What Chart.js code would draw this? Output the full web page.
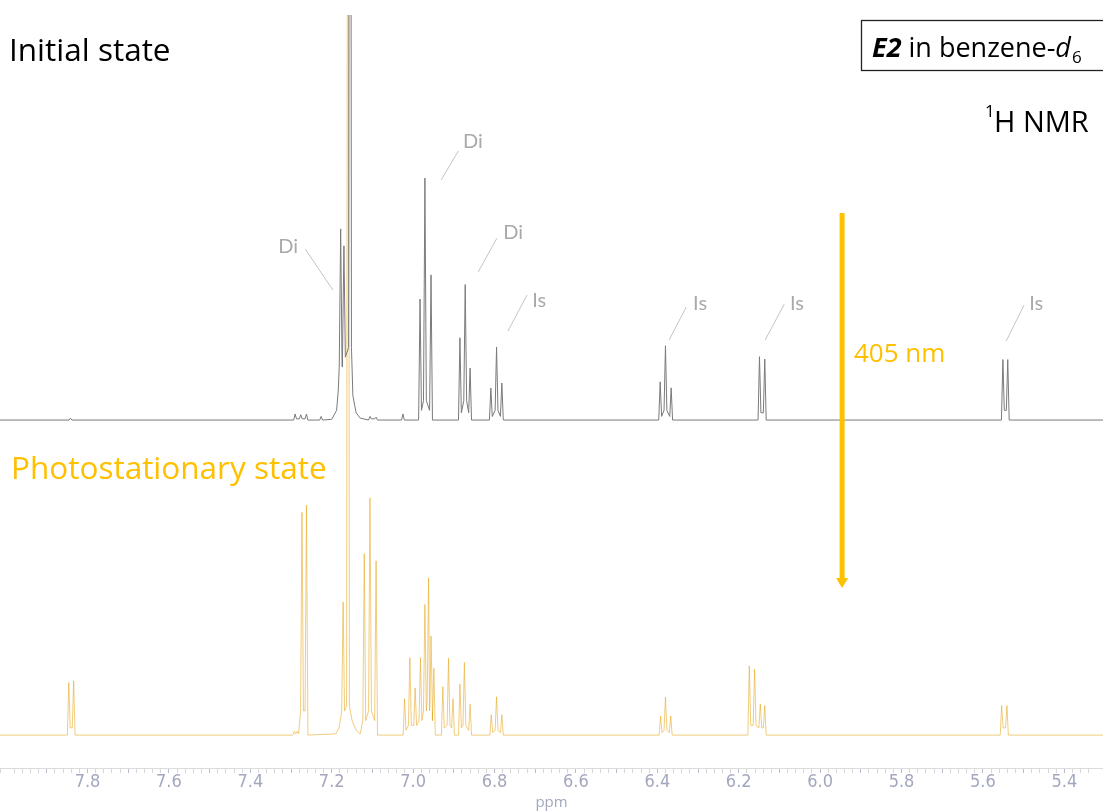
<!DOCTYPE html>
<html>
<head>
<meta charset="utf-8">
<script src="https://cdn.jsdelivr.net/npm/chart.js@4.4.0/dist/chart.umd.min.js"></script>
<style>
  html, body { margin: 0; padding: 0; background: #fff; }
  #wrap { width: 1103px; height: 812px; }
</style>
</head>
<body>
<div id="wrap"><canvas id="nmr"></canvas></div>
<script>
// axis range (ppm, drawn reversed) and labelled ticks
const ppmRange = [5.305, 8.015];
const tickLabels = ['7.8', '7.6', '7.4', '7.2', '7.0', '6.8', '6.6', '6.4', '6.2', '6.0', '5.8', '5.6', '5.4'];

// initial state (grey trace): peak positions, heights, valley level between close lines
const initialPpm  = [7.842, 7.290, 7.276, 7.262, 7.226, 7.178, 7.170, 7.155, 7.106, 7.091, 7.025,
                     6.983, 6.971, 6.956, 6.885, 6.872, 6.860, 6.809, 6.795, 6.782,
                     6.393, 6.380, 6.366, 6.149, 6.136, 5.551, 5.539];
const initialInt  = [0.8, 2.5, 2.2, 2.5, 1.5, 79, 72, 600, 1.5, 1.2, 2.5,
                     50, 100, 60, 34, 56, 21.5, 13.2, 30.2, 15.3,
                     15.8, 30.7, 13.3, 26.2, 25.2, 25, 25];
const initialFoot = [0, 0.5, 0.5, 0.5, 0, 22, 26, 30, 0.5, 0.5, 0,
                     4, 8, 4, 3, 8, 3, 1.5, 4, 1.5,
                     1.5, 4, 1.5, 3, 3, 4, 4];
// broad base under the solvent signal
const initialBasePpm = [7.200, 7.188, 7.184, 7.148, 7.140, 7.130];
const initialBaseInt = [0.3, 4, 12, 10, 3, 0.8];

// photostationary state (orange trace)
const pssPpm  = [7.846, 7.834, 7.292, 7.285, 7.273, 7.262, 7.172, 7.160, 7.120, 7.106, 7.091,
                 7.021, 7.008, 6.995, 6.982, 6.971, 6.962, 6.956, 6.949, 6.927, 6.913, 6.902,
                 6.885, 6.874, 6.860, 6.808, 6.795, 6.782, 6.392, 6.380, 6.367,
                 6.174, 6.161, 6.147, 6.136, 5.554, 5.541];
const pssInt  = [21.7, 22.4, 1.5, 1.5, 92, 95, 55, 600, 75, 98, 72,
                 15, 32, 19.5, 32, 54, 65, 41, 27.6, 20, 31.7, 15,
                 21, 30, 12.8, 8.4, 15.8, 8.4, 7.9, 15.7, 7.9,
                 28.6, 27.2, 12.9, 12.2, 12.2, 12.2];
const pssFoot = [3, 3, 0.5, 0.5, 10, 10, 10, 12, 6, 10, 6,
                 2, 4, 4, 6, 10, 14, 10, 6, 3, 4, 3,
                 3, 4, 2, 1, 2, 1, 1, 2, 1,
                 4, 4, 3, 3, 3, 3];
const pssBasePpm = [7.190, 7.182, 7.178, 7.150, 7.140, 7.130];
const pssBaseInt = [0.5, 3, 7, 6, 2, 0.5];

// peak labels: text position and leader line, in ppm / top-trace units
const peakLabels = [
  { text: 'Di', at: [7.307, 71.9], from: [7.265, 70.7], to: [7.197, 53.7] },
  { text: 'Di', at: [6.853, 115.3], from: [6.889, 111.2], to: [6.931, 99.2] },
  { text: 'Di', at: [6.754, 77.3], from: [6.794, 75.2], to: [6.840, 61.2] },
  { text: 'Is', at: [6.690, 49.2], from: [6.720, 51.7], to: [6.767, 36.8] },
  { text: 'Is', at: [6.295, 48.3], from: [6.329, 46.7], to: [6.371, 33.1] },
  { text: 'Is', at: [6.057, 48.3], from: [6.088, 47.9], to: [6.135, 33.1] },
  { text: 'Is', at: [5.469, 48.3], from: [5.499, 47.5], to: [5.543, 32.6] }
];

const halfWidth = 0.0035;
const groupGap = 0.016;

// each line is a narrow spike; its feet sit on the valley level only where a neighbour is close
function buildTrace(ppm, ints, foot, basePpm, baseInt) {
  const near = basePpm.concat(ppm);
  const pts = [{ x: ppmRange[1], y: 0 }, { x: ppmRange[0], y: 0 }];
  ppm.forEach((p, i) => {
    const hi = near.some(q => q > p + 1e-6 && q - p <= groupGap) ? foot[i] : 0;
    const lo = near.some(q => q < p - 1e-6 && p - q <= groupGap) ? foot[i] : 0;
    pts.push({ x: p + halfWidth, y: hi }, { x: p, y: ints[i] }, { x: p - halfWidth, y: lo });
  });
  basePpm.forEach((p, i) => pts.push({ x: p, y: baseInt[i] }));
  return pts.sort((a, b) => b.x - a.x);
}

const GOLD = '#FFC000';
const FONT = '"Open Sans", sans-serif';

const decorations = {
  id: 'decorations',
  afterDatasetsDraw(chart) {
    const ctx = chart.ctx;
    const x = chart.scales.x, y = chart.scales.yTop;
    ctx.save();

    // peak assignments
    ctx.strokeStyle = '#c4c4c4';
    ctx.lineWidth = 1;
    ctx.fillStyle = '#a9a9a9';
    ctx.font = '20px Lato, "Open Sans", sans-serif';
    ctx.textAlign = 'center';
    ctx.textBaseline = 'middle';
    peakLabels.forEach(l => {
      ctx.beginPath();
      ctx.moveTo(x.getPixelForValue(l.from[0]), y.getPixelForValue(l.from[1]));
      ctx.lineTo(x.getPixelForValue(l.to[0]), y.getPixelForValue(l.to[1]));
      ctx.stroke();
      ctx.fillText(l.text, x.getPixelForValue(l.at[0]), y.getPixelForValue(l.at[1]));
    });

    // state titles
    ctx.textAlign = 'left';
    ctx.textBaseline = 'alphabetic';
    ctx.font = '31.5px ' + FONT;
    ctx.fillStyle = '#000';
    ctx.fillText('Initial state', 9, 61);
    ctx.fillStyle = GOLD;
    ctx.fillText('Photostationary state', 11, 479);

    // irradiation arrow
    const ax = x.getPixelForValue(5.946);
    ctx.strokeStyle = GOLD;
    ctx.lineWidth = 5;
    ctx.beginPath();
    ctx.moveTo(ax, 213);
    ctx.lineTo(ax, 580);
    ctx.stroke();
    ctx.fillStyle = GOLD;
    ctx.beginPath();
    ctx.moveTo(ax - 6, 578);
    ctx.lineTo(ax + 6, 578);
    ctx.lineTo(ax, 588);
    ctx.closePath();
    ctx.fill();
    ctx.font = '26px ' + FONT;
    ctx.textBaseline = 'middle';
    ctx.fillText('405 nm', 854, 355);

    // sample box
    ctx.strokeStyle = '#222';
    ctx.lineWidth = 1.3;
    ctx.strokeRect(861.5, 20.5, 260, 50);
    ctx.fillStyle = '#000';
    ctx.textBaseline = 'alphabetic';
    let tx = 872;
    const base = 57;
    ctx.font = 'italic bold 27px ' + FONT;
    ctx.fillText('E2', tx, base); tx += ctx.measureText('E2').width;
    ctx.font = '27px ' + FONT;
    ctx.fillText(' in benzene-', tx, base); tx += ctx.measureText(' in benzene-').width;
    ctx.font = 'italic 27px ' + FONT;
    ctx.fillText('d', tx, base); tx += ctx.measureText('d').width;
    ctx.font = '17px ' + FONT;
    ctx.fillText('6', tx + 1, base + 6);

    // nucleus
    ctx.font = '17px ' + FONT;
    ctx.fillText('1', 985, 117);
    ctx.font = '29px ' + FONT;
    ctx.fillText('H NMR', 994, 132);
    ctx.restore();
  }
};

new Chart(document.getElementById('nmr'), {
  type: 'line',
  data: {
    datasets: [
      {
        label: 'Initial state',
        data: buildTrace(initialPpm, initialInt, initialFoot, initialBasePpm, initialBaseInt),
        yAxisID: 'yTop',
        borderColor: '#7a7a7a',
        borderWidth: 1,
        pointRadius: 0,
        tension: 0
      },
      {
        label: 'Photostationary state',
        data: buildTrace(pssPpm, pssInt, pssFoot, pssBasePpm, pssBaseInt),
        yAxisID: 'yBot',
        borderColor: 'rgba(232, 170, 40, 0.6)',
        borderWidth: 1,
        pointRadius: 0,
        tension: 0
      }
    ]
  },
  options: {
    responsive: true,
    maintainAspectRatio: false,
    animation: false,
    layout: { padding: { top: 15, left: 0, right: 0, bottom: 2 } },
    plugins: { legend: { display: false }, tooltip: { enabled: false } },
    scales: {
      x: {
        type: 'linear',
        reverse: true,
        min: ppmRange[0],
        max: ppmRange[1],
        border: { display: true, color: '#dcdcdc', width: 1 },
        grid: {
          drawOnChartArea: false,
          drawTicks: true,
          tickLength: 5,
          color: ctx => (Math.abs(ctx.tick.value * 10 - Math.round(ctx.tick.value * 10)) < 1e-6 ? '#b9bccb' : '#d6d6d6')
        },
        ticks: {
          stepSize: 0.02,
          autoSkip: false,
          maxRotation: 0,
          minRotation: 0,
          padding: 0,
          color: '#a3a7bd',
          font: { family: '"Liberation Sans Narrow", "DejaVu Sans Condensed", sans-serif', size: 18, lineHeight: 1 },
          callback: v => {
            const s = v.toFixed(2);
            return (s.endsWith('0') && tickLabels.includes(s.slice(0, 3))) ? s.slice(0, 3) : '';
          }
        },
        title: {
          display: true,
          text: 'ppm',
          color: '#a3a7bd',
          font: { family: FONT, size: 15, lineHeight: 1 },
          padding: { top: 4, bottom: 0 }
        }
      },
      yTop: { type: 'linear', display: false, min: -143.8, max: 167.4 },
      yBot: { type: 'linear', display: false, min: -13.6, max: 297.5 }
    }
  },
  plugins: [decorations]
});
</script>
</body>
</html>
